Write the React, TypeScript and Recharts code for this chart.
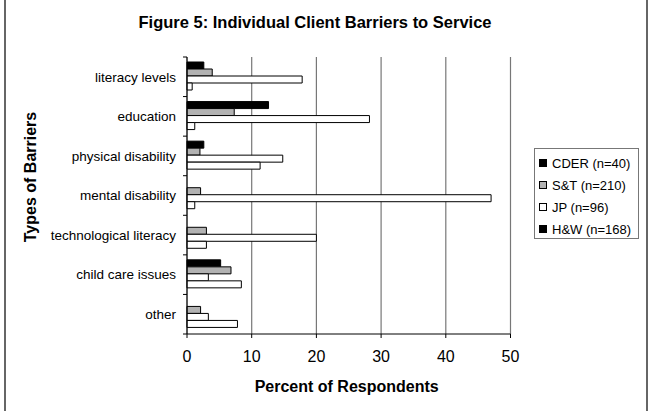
import { Bar, BarChart, CartesianGrid, XAxis, YAxis } from "recharts";

const categories = [
  "literacy levels",
  "education",
  "physical disability",
  "mental disability",
  "technological literacy",
  "child care issues",
  "other",
];
const seriesNames = ["CDER (n=40)", "S&T (n=210)", "JP (n=96)", "H&W (n=168)"];
const cder = [2.6, 12.6, 2.6, 0, 0, 5.2, 0];
const snt = [3.9, 7.3, 2.0, 2.1, 3.0, 6.8, 2.1];
const jp = [17.8, 28.2, 14.8, 47.0, 20.0, 3.3, 3.3];
const hw = [0.8, 1.2, 11.3, 1.2, 3.0, 8.4, 7.8];
const xTicks = [0, 10, 20, 30, 40, 50];

const seriesKeys = ["cder", "snt", "jp", "hw"];
const barFills = ["#000000", "#b2b2b2", "#ffffff", "#ffffff"];
// the legend swatch for H&W is black in the original, even though its bars are white
const legendFills = ["#000000", "#b2b2b2", "#ffffff", "#000000"];

const data = categories.map((category, i) => ({
  category,
  cder: cder[i],
  snt: snt[i],
  jp: jp[i],
  hw: hw[i],
}));

const W = 648;
const H = 411;
const PLOT_LEFT = 187;
const PLOT_RIGHT = 510.5;
const PLOT_TOP = 57;
const PLOT_BOTTOM = 334;
const Y_AXIS_W = 180;
const X_AXIS_H = 40;
const TICK_MARGIN = 11;
const FONT = "Arial, 'Liberation Sans', sans-serif";

function CategoryTick(props: any) {
  const { x, y, payload, index } = props;
  const band = (PLOT_BOTTOM - PLOT_TOP) / categories.length;
  const axisX = x + TICK_MARGIN;
  return (
    <g>
      <text x={x} y={y} dy="0.35em" textAnchor="end" fontSize={13.5} fill="#000" fontFamily={FONT}>
        {payload.value}
      </text>
      <line x1={axisX - 4} x2={axisX} y1={y - band / 2} y2={y - band / 2} stroke="#000" />
      {index === categories.length - 1 && (
        <line x1={axisX - 4} x2={axisX} y1={y + band / 2} y2={y + band / 2} stroke="#000" />
      )}
    </g>
  );
}

export default function App() {
  return (
    <div
      style={{
        position: "absolute",
        left: 0,
        top: 0,
        width: W,
        height: H,
        background: "#fff",
        fontFamily: FONT,
        color: "#000",
      }}
    >
      <div style={{ position: "absolute", left: 4, top: 0, width: 2, height: H, background: "#666" }} />
      <div style={{ position: "absolute", left: 646, top: 0, width: 2, height: H, background: "#666" }} />

      <div
        style={{
          position: "absolute",
          left: 0,
          width: W,
          top: 13,
          textAlign: "center",
          fontSize: 16.5,
          fontWeight: "bold",
          paddingLeft: 0,
          transform: "translateX(-9px)",
        }}
      >
        Figure 5: Individual Client Barriers to Service
      </div>

      <div
        style={{
          position: "absolute",
          left: 31,
          top: 176.5,
          transform: "translate(-50%, -50%) rotate(-90deg)",
          whiteSpace: "nowrap",
          fontSize: 16,
          fontWeight: "bold",
        }}
      >
        Types of Barriers
      </div>

      <div
        style={{
          position: "absolute",
          left: 346.7,
          top: 386.7,
          transform: "translate(-50%, -50%)",
          whiteSpace: "nowrap",
          fontSize: 16,
          fontWeight: "bold",
        }}
      >
        Percent of Respondents
      </div>

      <div style={{ position: "absolute", left: 0, top: 0 }}>
        <BarChart
          width={W}
          height={H}
          data={data}
          layout="vertical"
          barCategoryGap={5}
          barGap={0}
          margin={{
            top: PLOT_TOP,
            right: W - PLOT_RIGHT,
            bottom: H - PLOT_BOTTOM - X_AXIS_H,
            left: PLOT_LEFT - Y_AXIS_W,
          }}
        >
          <CartesianGrid horizontal={false} stroke="#777" strokeWidth={1.2} />
          <XAxis
            type="number"
            domain={[0, 50]}
            ticks={xTicks}
            height={X_AXIS_H}
            tickSize={4}
            tickMargin={13}
            axisLine={{ stroke: "#000" }}
            tickLine={{ stroke: "#000" }}
            tick={{ fill: "#000", fontSize: 16, fontFamily: FONT }}
          />
          <YAxis
            type="category"
            dataKey="category"
            width={Y_AXIS_W}
            tickSize={0}
            tickMargin={TICK_MARGIN}
            axisLine={{ stroke: "#000" }}
            tickLine={false}
            tick={<CategoryTick />}
            interval={0}
          />
          {seriesKeys.map((key, i) => (
            <Bar
              key={key}
              dataKey={key}
              name={seriesNames[i]}
              fill={barFills[i]}
              stroke="#000"
              strokeWidth={1}
              isAnimationActive={false}
            />
          ))}
        </BarChart>
      </div>

      <div
        style={{
          position: "absolute",
          left: 534,
          top: 148,
          width: 105,
          height: 91,
          boxSizing: "border-box",
          border: "1px solid #777",
          fontSize: 13,
        }}
      >
        {seriesNames.map((name, i) => (
          <div
            key={name}
            style={{ position: "absolute", left: 4, top: 14 + i * 22 - 9, height: 18, display: "flex", alignItems: "center" }}
          >
            <span
              style={{
                display: "inline-block",
                width: 8,
                height: 8,
                boxSizing: "border-box",
                border: "1px solid #000",
                background: legendFills[i],
                marginRight: 5,
              }}
            />
            <span style={{ whiteSpace: "nowrap" }}>{name}</span>
          </div>
        ))}
      </div>
    </div>
  );
}
